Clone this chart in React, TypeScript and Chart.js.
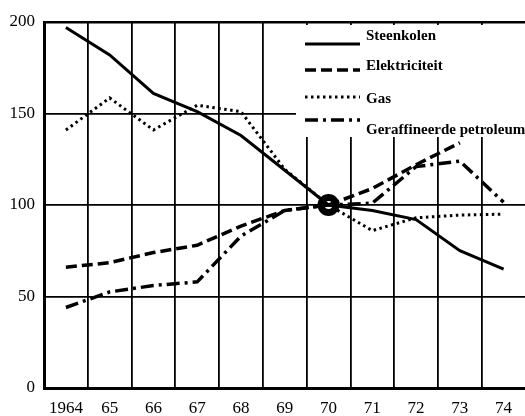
import React, { useEffect, useRef } from "react";
import { Chart, registerables } from "chart.js";

Chart.register(...registerables);

const years = ["1964", "65", "66", "67", "68", "69", "70", "71", "72", "73", "74"];
const steenkolen = [197, 182, 161, 151, 138, 119, 100, 97, 92, 75, 65];
const elektriciteit = [66, 68.5, 74, 78, 88.5, 97, 100, 109, 122, 134, null];
const gas = [141, 158.5, 141, 154.5, 151, 119.5, 100, 86, 93, 94.5, 95];
const petroleum = [44, 52.5, 56, 58, 83, 97, 100, 101, 121, 124, 101.5];
const baseYear = [null, null, null, null, null, null, 100, null, null, null, null];
const seriesNames = ["Steenkolen", "Elektriciteit", "Gas", "Geraffineerde petroleum"];
const dashes: number[][] = [[], [11, 5], [2.5, 3.5], [13, 5, 3, 5]];
const widths = [3, 3.5, 3, 3.5];
const yMin = 0;
const yMax = 200;
const yStep = 50;

const SERIF = "'Liberation Serif', 'DejaVu Serif', serif";

const boxLegend = {
  id: "boxLegend",
  beforeDatasetsDraw(chart: any) {
    const { ctx, chartArea } = chart;
    const x0 = chartArea.left + 252;
    const y0 = chartArea.top + 3;
    ctx.save();
    ctx.fillStyle = "#ffffff";
    ctx.fillRect(x0, y0, 300, 112);
    const rows = [
      { line: 19, text: 11 },
      { line: 45, text: 41 },
      { line: 72, text: 74 },
      { line: 95, text: 105 },
    ];
    rows.forEach((r, i) => {
      ctx.strokeStyle = "#000";
      ctx.lineWidth = widths[i];
      ctx.setLineDash(dashes[i]);
      ctx.beginPath();
      ctx.moveTo(x0 + 9, y0 + r.line);
      ctx.lineTo(x0 + 64, y0 + r.line);
      ctx.stroke();
      ctx.setLineDash([]);
      ctx.fillStyle = "#000";
      ctx.font = `bold 15px ${SERIF}`;
      ctx.textBaseline = "middle";
      ctx.textAlign = "left";
      ctx.fillText(seriesNames[i], x0 + 70, y0 + r.text);
    });
    ctx.restore();
  },
};

export default function App() {
  const ref = useRef<HTMLCanvasElement | null>(null);

  useEffect(() => {
    if (!ref.current) return;
    const mk = (i: number, data: (number | null)[]) => ({
      label: seriesNames[i],
      data,
      borderColor: "#000",
      backgroundColor: "#000",
      borderWidth: widths[i],
      borderDash: dashes[i],
      pointRadius: 0,
      tension: 0,
      spanGaps: false,
      fill: false,
    });
    const chart = new Chart(ref.current, {
      type: "line",
      data: {
        labels: years,
        datasets: [
          mk(0, steenkolen),
          mk(1, elektriciteit),
          mk(2, gas),
          mk(3, petroleum),
          {
            label: "1970",
            data: baseYear,
            borderColor: "#000",
            backgroundColor: "#fff",
            showLine: false,
            pointRadius: 7.5,
            pointBorderWidth: 7,
            pointBackgroundColor: "#fff",
            pointBorderColor: "#000",
          } as any,
        ],
      },
      options: {
        responsive: false,
        animation: false,
        devicePixelRatio: 1,
        layout: { padding: { left: 0, right: 12, top: 22, bottom: 0 } },
        plugins: {
          legend: { display: false },
          tooltip: { enabled: false },
        },
        scales: {
          x: {
            type: "category",
            offset: true,
            grid: {
              offset: true,
              color: "#000",
              lineWidth: 1.8,
              drawTicks: false,
            },
            border: { display: true, color: "#000", width: 3 },
            ticks: {
              color: "#000",
              font: { family: SERIF, size: 17 },
              padding: 10,
              maxRotation: 0,
              autoSkip: false,
            },
            afterFit: (s: any) => {
              s.height = 28;
            },
          },
          y: {
            min: yMin,
            max: yMax,
            grid: {
              color: "#000",
              lineWidth: (c: any) => (c.tick && c.tick.value === yMax ? 2.5 : 1.8),
              drawTicks: false,
            },
            border: { display: true, color: "#000", width: 3 },
            ticks: {
              stepSize: yStep,
              color: "#000",
              font: { family: SERIF, size: 17 },
              padding: 9,
            },
            afterFit: (s: any) => {
              s.width = 44;
            },
          },
        },
      },
      plugins: [boxLegend],
    });
    return () => chart.destroy();
  }, []);

  return (
    <div
      style={{
        position: "fixed",
        left: 0,
        top: 0,
        width: 525,
        height: 416,
        overflow: "hidden",
        background: "#fff",
      }}
    >
      <canvas ref={ref} width={540} height={416} style={{ display: "block", width: 540, height: 416 }} />
    </div>
  );
}
